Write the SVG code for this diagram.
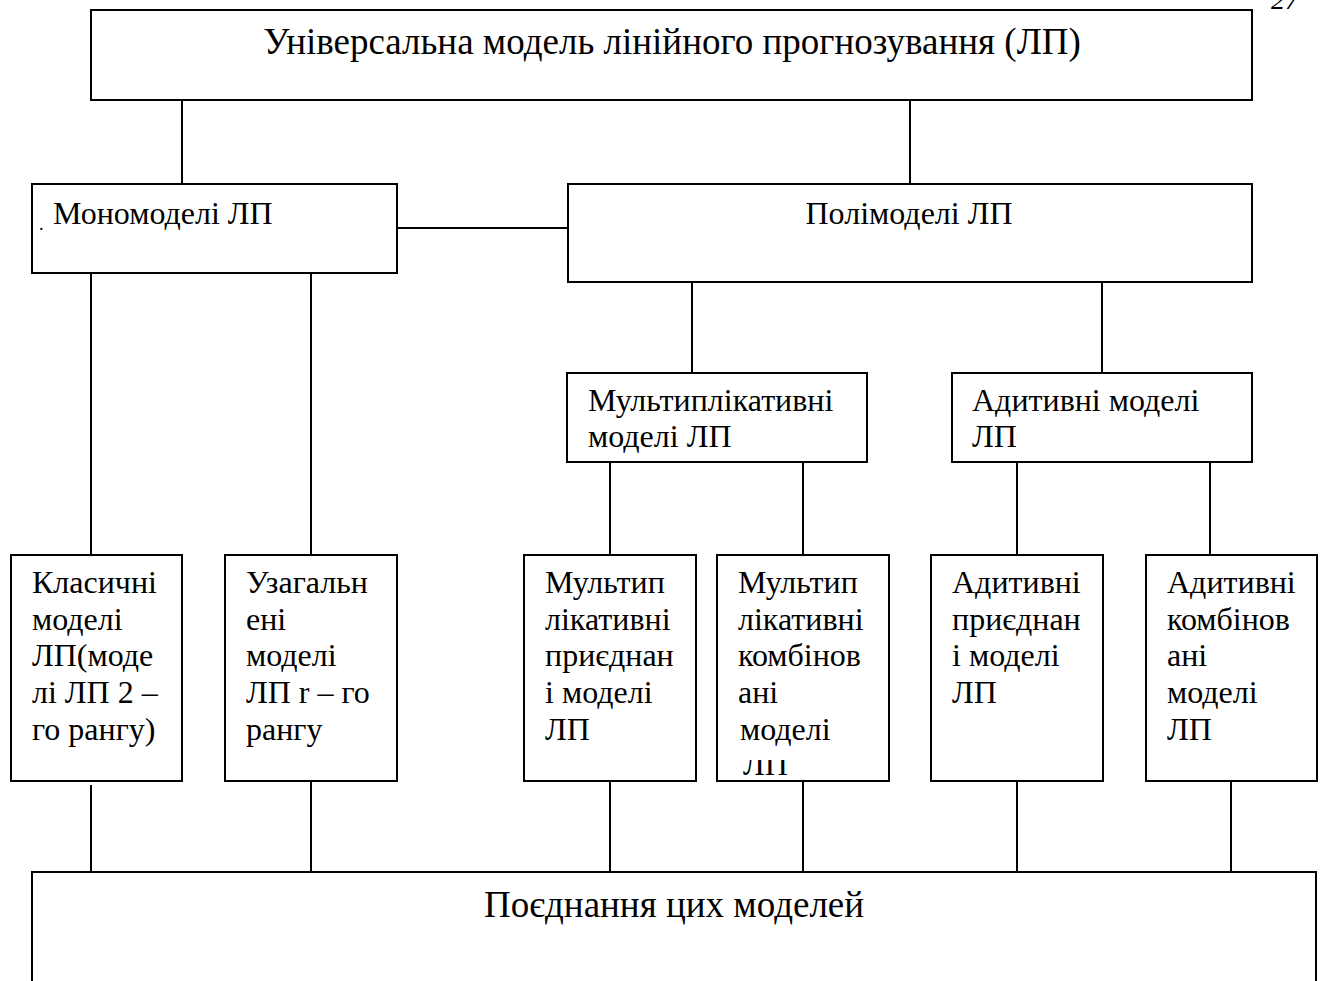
<svg xmlns="http://www.w3.org/2000/svg" width="1324" height="981" viewBox="0 0 1324 981">
<style>
.box{fill:#fff;stroke:#000;stroke-width:2}
.ln{stroke:#000;stroke-width:2;fill:none}
text{font-family:"Liberation Serif","Times New Roman",serif;fill:#000}
.t{font-size:32px}
.big{font-size:37px}
</style>
<defs>
<clipPath id="clipLP"><rect x="717" y="760" width="172" height="21"/></clipPath>
</defs>
<rect width="1324" height="981" fill="#fff"/>
<text x="1271" y="9" font-size="28" font-style="italic">27</text>
<g id="connectors">
<line class="ln" x1="182" y1="100" x2="182" y2="184"/>
<line class="ln" x1="910" y1="100" x2="910" y2="184"/>
<line class="ln" x1="397" y1="228" x2="568" y2="228"/>
<line class="ln" x1="91" y1="273" x2="91" y2="555"/>
<line class="ln" x1="311" y1="273" x2="311" y2="555"/>
<line class="ln" x1="692" y1="282" x2="692" y2="373"/>
<line class="ln" x1="1102" y1="282" x2="1102" y2="373"/>
<line class="ln" x1="610" y1="462" x2="610" y2="555"/>
<line class="ln" x1="803" y1="462" x2="803" y2="555"/>
<line class="ln" x1="1017" y1="462" x2="1017" y2="555"/>
<line class="ln" x1="1210" y1="462" x2="1210" y2="555"/>
<line class="ln" x1="91" y1="785" x2="91" y2="872"/>
<line class="ln" x1="311" y1="781" x2="311" y2="872"/>
<line class="ln" x1="610" y1="781" x2="610" y2="872"/>
<line class="ln" x1="803" y1="781" x2="803" y2="872"/>
<line class="ln" x1="1017" y1="781" x2="1017" y2="872"/>
<line class="ln" x1="1231" y1="781" x2="1231" y2="872"/>
</g>
<g id="universal">
<rect class="box" x="91" y="10" width="1161" height="90"/>
<text class="big" x="672" y="54" text-anchor="middle">Універсальна модель лінійного прогнозування (ЛП)</text>
</g>
<g id="mono">
<rect class="box" x="32" y="184" width="365" height="89"/>
<text x="39" y="230" font-size="18">.</text>
<text class="t" x="53" y="224">Мономоделі ЛП</text>
</g>
<g id="poly">
<rect class="box" x="568" y="184" width="684" height="98"/>
<text class="t" x="909" y="224" text-anchor="middle">Полімоделі ЛП</text>
</g>
<g id="multi">
<rect class="box" x="567" y="373" width="300" height="89"/>
<text class="t" x="588" y="411">Мультиплікативні</text>
<text class="t" x="588" y="447">моделі ЛП</text>
</g>
<g id="additive">
<rect class="box" x="952" y="373" width="300" height="89"/>
<text class="t" x="972" y="411">Адитивні моделі</text>
<text class="t" x="972" y="447">ЛП</text>
</g>
<g id="classic">
<rect class="box" x="11" y="555" width="171" height="226"/>
<text class="t" x="32" y="593">Класичні</text>
<text class="t" x="32" y="630">моделі</text>
<text class="t" x="32" y="666">ЛП(моде</text>
<text class="t" x="32" y="703">лі ЛП 2 –</text>
<text class="t" x="32" y="740">го рангу)</text>
</g>
<g id="general">
<rect class="box" x="225" y="555" width="172" height="226"/>
<text class="t" x="246" y="593">Узагальн</text>
<text class="t" x="246" y="630">ені</text>
<text class="t" x="246" y="666">моделі</text>
<text class="t" x="246" y="703">ЛП r – го</text>
<text class="t" x="246" y="740">рангу</text>
</g>
<g id="multi-attached">
<rect class="box" x="524" y="555" width="172" height="226"/>
<text class="t" x="545" y="593">Мультип</text>
<text class="t" x="545" y="630">лікативні</text>
<text class="t" x="545" y="666">приєднан</text>
<text class="t" x="545" y="703">і моделі</text>
<text class="t" x="545" y="740">ЛП</text>
</g>
<g id="multi-combined">
<rect class="box" x="717" y="555" width="172" height="226"/>
<text class="t" x="738" y="593">Мультип</text>
<text class="t" x="738" y="630">лікативні</text>
<text class="t" x="738" y="666">комбінов</text>
<text class="t" x="738" y="703">ані</text>
<text class="t" x="740" y="740">моделі</text>
<text class="t" x="743" y="775" clip-path="url(#clipLP)">ЛП</text>
</g>
<g id="add-attached">
<rect class="box" x="931" y="555" width="172" height="226"/>
<text class="t" x="952" y="593">Адитивні</text>
<text class="t" x="952" y="630">приєднан</text>
<text class="t" x="952" y="666">і моделі</text>
<text class="t" x="952" y="703">ЛП</text>
</g>
<g id="add-combined">
<rect class="box" x="1146" y="555" width="171" height="226"/>
<text class="t" x="1167" y="593">Адитивні</text>
<text class="t" x="1167" y="630">комбінов</text>
<text class="t" x="1167" y="666">ані</text>
<text class="t" x="1167" y="703">моделі</text>
<text class="t" x="1167" y="740">ЛП</text>
</g>
<g id="combination">
<rect class="box" x="32" y="872" width="1284" height="140"/>
<text class="big" x="674" y="917" text-anchor="middle">Поєднання цих моделей</text>
</g>
</svg>
